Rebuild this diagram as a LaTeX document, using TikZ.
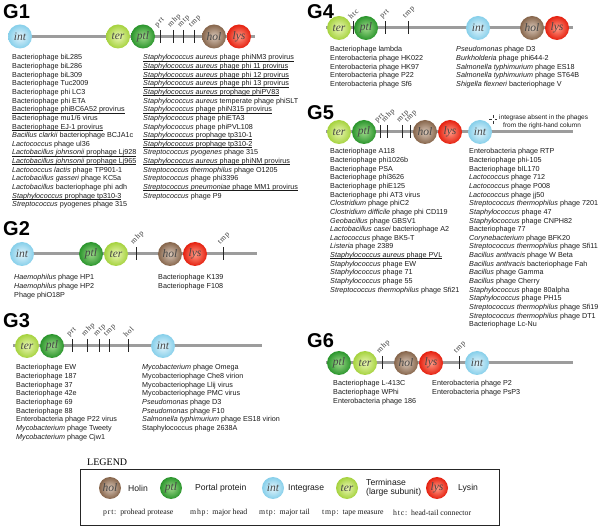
\documentclass[tikz,border=0pt]{standalone}
\usepackage{fontspec}
\setmainfont{Liberation Sans}
\newfontfamily\serifface{Liberation Serif}
\newfontfamily\abbrface[LetterSpace=10]{Liberation Serif}
\usetikzlibrary{calc}

\definecolor{bbgray}{HTML}{9C9C9C}
\definecolor{intin}{HTML}{E4F5FC}\definecolor{intout}{HTML}{86CFEA}
\definecolor{terin}{HTML}{EAF7B4}\definecolor{terout}{HTML}{A5D23E}
\definecolor{ptlin}{HTML}{9ED98A}\definecolor{ptlout}{HTML}{2A952C}
\definecolor{holin}{HTML}{D9C7B8}\definecolor{holout}{HTML}{86654B}
\definecolor{lysin}{HTML}{FF9A86}\definecolor{lysout}{HTML}{E5200F}
\definecolor{txt}{HTML}{1A1A1A}

\newcommand{\undl}[1]{\leavevmode\setbox0\hbox{#1}\rlap{\rule[-1.25pt]{\wd0}{0.4pt}}\box0}
\newcommand{\ti}[1]{\textit{#1}}

\tikzset{
  gene/.style={circle, minimum size=24pt, inner sep=0pt,
    font=\serifface\itshape\fontsize{11.5}{11.5}\selectfont, text=black!72},
  lgene/.style={gene, minimum size=22pt},
  gint/.style={inner color=intin, outer color=intout},
  gter/.style={inner color=terin, outer color=terout},
  gptl/.style={inner color=ptlin, outer color=ptlout},
  ghol/.style={inner color=holin, outer color=holout},
  glys/.style={inner color=lysin, outer color=lysout},
  backbone/.style={line width=3pt, draw=bbgray},
  tickline/.style={line width=0.8pt, draw=black!85},
  ticklbl/.style={rotate=45, anchor=south west, inner sep=0pt,
    font=\abbrface\fontsize{7.6}{8}\selectfont, text=black!80},
  lst/.style={anchor=north west, align=left, inner sep=0pt,
    font=\fontsize{7.2}{8.65}\selectfont, text=txt},
  ttl/.style={anchor=north west, inner sep=0pt,
    font=\bfseries\fontsize{20}{20}\selectfont, text=black},
  leglbl/.style={anchor=west, inner sep=0pt, align=left,
    font=\fontsize{8.6}{9}\selectfont, text=txt},
  legabbr/.style={anchor=west, inner sep=0pt,
    font=\serifface\fontsize{7.8}{8}\selectfont, text=txt},
  notetxt/.style={anchor=west, inner sep=0pt, font=\fontsize{6.5}{7}\selectfont, text=txt},
}

\newcommand{\gtick}[4]{%
  \coordinate (#1t) at (#2,#3-6.5);
  \coordinate (#1b) at (#2,#3+6.5);
  \draw[tickline] (#1t) -- (#1b);
  \node[ticklbl] (#1l) at (#2-1.5,#3-8) {#4};}

\begin{document}
\begin{tikzpicture}[x=1pt,y=-1pt]
\useasboundingbox (0,0) rectangle (600,526);

%================ G1
\node[ttl] (G1) at (3,4) {G1};
\coordinate (g1s) at (14,36.5); \coordinate (g1e) at (255,36.5);
\draw[backbone] (g1s) -- (g1e);
\node[gene,gint] (g1int) at (20,36.5) {int};
\node[gene,gter] (g1ter) at (118,36.5) {ter};
\node[gene,gptl] (g1ptl) at (143,36.5) {ptl};
\node[gene,ghol] (g1hol) at (214,36.5) {hol};
\node[gene,glys] (g1lys) at (239,36.5) {lys};
\gtick{g1a}{160}{36.5}{prt}
\gtick{g1b}{173}{36.5}{mhp}
\gtick{g1c}{183}{36.5}{mtp}
\gtick{g1d}{194}{36.5}{tmp}
\node[lst] (g1L) at (12,54.4) {Bacteriophage biL285\\
Bacteriophage biL286\\
Bacteriophage biL309\\
Bacteriophage Tuc2009\\
Bacteriophage phi LC3\\
Bacteriophage phi ETA\\
\undl{Bacteriophage phiBC6A52 provirus}\\
Bacteriophage mu1/6 virus\\
\undl{Bacteriophage EJ-1 provirus}\\
\ti{Bacillus clarkii} bacteriophage BCJA1c\\
\ti{Lactococcus} phage ul36\\
\undl{\ti{Lactobacillus johnsonii} prophage Lj928}\\
\undl{\ti{Lactobacillus johnsonii} prophage Lj965}\\
\ti{Lactococcus lactis} phage TP901-1\\
\ti{Lactobacillus gasseri} phage KC5a\\
\ti{Lactobacillus} bacteriophage phi adh\\
\undl{\ti{Staphylococcus} prophage tp310-3}\\
\ti{Streptococcus} pyogenes phage 315};
\node[lst] (g1R) at (143,54.4) {\undl{\ti{Staphylococcus aureus} phage phiNM3 provirus}\\
\undl{\ti{Staphylococcus aureus} phage phi 11 provirus}\\
\undl{\ti{Staphylococcus aureus} phage phi 12 provirus}\\
\undl{\ti{Staphylococcus aureus} phage phi 13 provirus}\\
\undl{\ti{Staphylococcus aureus} prophage phiPV83}\\
\ti{Staphylococcus aureus} temperate phage phiSLT\\
\undl{\ti{Staphylococcus} phage phiN315 provirus}\\
\ti{Staphylococcus} phage phiETA3\\
\ti{Staphylococcus} phage phiPVL108\\
\undl{\ti{Staphylococcus} prophage tp310-1}\\
\undl{\ti{Staphylococcus} prophage tp310-2}\\
\ti{Streptococcus pyogenes} phage 315\\
\undl{\ti{Staphylococcus aureus} phage phiNM provirus}\\
\ti{Streptococcus thermophilus} phage O1205\\
\ti{Streptococcus} phage phi3396\\
\undl{\ti{Streptococcus pneumoniae} phage MM1 provirus}\\
\ti{Streptococcus} phage P9};

%================ G2
\node[ttl] (G2) at (3,221) {G2};
\coordinate (g2s) at (10,254); \coordinate (g2e) at (257,254);
\draw[backbone] (g2s) -- (g2e);
\node[gene,gint] (g2int) at (22,254) {int};
\node[gene,gptl] (g2ptl) at (91,254) {ptl};
\node[gene,gter] (g2ter) at (116,254) {ter};
\node[gene,ghol] (g2hol) at (170,254) {hol};
\node[gene,glys] (g2lys) at (195,254) {lys};
\gtick{g2a}{136}{254}{mhp}
\gtick{g2b}{223}{254}{tmp}
\node[lst] (g2L) at (14,274.4) {\ti{Haemophilus} phage HP1\\
\ti{Haemophilus} phage HP2\\
Phage phiO18P};
\node[lst] (g2R) at (158,274.4) {Bacteriophage K139\\
Bacteriophage F108};

%================ G3
\node[ttl] (G3) at (3,313) {G3};
\coordinate (g3s) at (13,346); \coordinate (g3e) at (262,346);
\draw[backbone] (g3s) -- (g3e);
\node[gene,gter] (g3ter) at (27,346) {ter};
\node[gene,gptl] (g3ptl) at (52,346) {ptl};
\node[gene,gint] (g3int) at (163,346) {int};
\gtick{g3a}{72}{346}{prt}
\gtick{g3b}{87}{346}{mhp}
\gtick{g3c}{99}{346}{mtp}
\gtick{g3d}{109}{346}{tmp}
\gtick{g3e}{128}{346}{hol}
\node[lst] (g3L) at (16,364.4) {Bacteriophage EW\\
Bacteriophage 187\\
Bacteriophage 37\\
Bacteriophage 42e\\
Bacteriophage 69\\
Bacteriophage 88\\
Enterobacteria phage P22 virus\\
\ti{Mycobacterium} phage Tweety\\
\ti{Mycobacterium} phage Cjw1};
\node[lst] (g3R) at (142,364.4) {\ti{Mycobacterium} phage Omega\\
Mycobacteriophage Che8 virion\\
Mycobacteriophage Llij virus\\
Mycobacteriophage PMC virus\\
\ti{Pseudomonas} phage D3\\
\ti{Pseudomonas} phage F10\\
\ti{Salmonella typhimurium} phage ES18 virion\\
Staphylococcus phage 2638A};

%================ G4
\node[ttl] (G4) at (307,4) {G4};
\coordinate (g4s) at (326,28); \coordinate (g4e) at (573,28);
\draw[backbone] (g4s) -- (g4e);
\node[gene,gter] (g4ter) at (339,28) {ter};
\node[gene,gptl] (g4ptl) at (366,28) {ptl};
\node[gene,gint] (g4int) at (478,28) {int};
\node[gene,ghol] (g4hol) at (532,28) {hol};
\node[gene,glys] (g4lys) at (557,28) {lys};
\gtick{g4a}{353}{28}{htc}
\gtick{g4b}{385}{28}{prt}
\gtick{g4c}{408}{28}{tmp}
\node[lst] (g4L) at (330,46.4) {Bacteriophage lambda\\
Enterobacteria phage HK022\\
Enterobacteria phage HK97\\
Enterobacteria phage P22\\
Enterobacteria phage Sf6};
\node[lst] (g4R) at (456,46.4) {\ti{Pseudomonas} phage D3\\
\ti{Burkholderia} phage phi644-2\\
\ti{Salmonella typhimurium} phage ES18\\
\ti{Salmonella typhimurium} phage ST64B\\
\ti{Shigella flexneri} bacteriophage V};

%================ G5
\node[ttl] (G5) at (307,105) {G5};
\coordinate (g5s) at (326,132); \coordinate (g5e) at (573,132);
\draw[backbone] (g5s) -- (g5e);
\node[gene,gter] (g5ter) at (339,132) {ter};
\node[gene,gptl] (g5ptl) at (364,132) {ptl};
\node[gene,ghol] (g5hol) at (425,132) {hol};
\node[gene,glys] (g5lys) at (450,132) {lys};
\node[gene,gint] (g5int) at (480,132) {int};
\gtick{g5a}{380}{132}{prt}
\gtick{g5b}{387}{132}{mhp}
\gtick{g5c}{402}{132}{mtp}
\gtick{g5d}{410}{132}{tmp}
\coordinate (sym) at (493,119.5);
\draw[line width=0.5pt, black!80] ($(sym)+(0,-4.5)$) -- ($(sym)+(0,-1.5)$)
  ($(sym)+(0,1.5)$) -- ($(sym)+(0,4.5)$)
  ($(sym)+(-4,0)$) -- ($(sym)+(-1.5,0)$)
  ($(sym)+(1.5,0)$) -- ($(sym)+(4,0)$);
\node[notetxt] (note1) at (499,118) {integrase absent in the phages};
\node[notetxt] (note2) at (503,125.5) {from the right-hand column};
\node[lst] (g5L) at (330,148.4) {Bacteriophage A118\\
Bacteriophage phi1026b\\
Bacteriophage PSA\\
Bacteriophage phi3626\\
Bacteriophage phiE125\\
Bacteriophage phi AT3 virus\\
\ti{Clostridium} phage phiC2\\
\ti{Clostridium difficile} phage phi CD119\\
\ti{Geobacillus} phage GBSV1\\
\ti{Lactobacillus casei} bacteriophage A2\\
\ti{Lactococcus} phage BK5-T\\
\ti{Listeria} phage 2389\\
\undl{\ti{Staphylococcus aureus} phage PVL}\\
\ti{Staphylococcus} phage EW\\
\ti{Staphylococcus} phage 71\\
\ti{Staphylococcus} phage 55\\
\ti{Streptococcus thermophilus} phage Sfi21};
\node[lst] (g5R) at (469,148.4) {Enterobacteria phage RTP\\
Bacteriophage phi-105\\
Bacteriophage bIL170\\
\ti{Lactococcus} phage 712\\
\ti{Lactococcus} phage P008\\
\ti{Lactococcus} phage jj50\\
\ti{Streptococcus thermophilus} phage 7201\\
\ti{Staphylococcus} phage 47\\
\ti{Staphylococcus} phage CNPH82\\
Bacteriophage 77\\
\ti{Corynebacterium} phage BFK20\\
\ti{Streptococcus thermophilus} phage Sfi11\\
\ti{Bacillus anthracis} phage W Beta\\
\ti{Bacillus anthracis} bacteriophage Fah\\
\ti{Bacillus} phage Gamma\\
\ti{Bacillus} phage Cherry\\
\ti{Staphylococcus} phage 80alpha\\
\ti{Staphylococcus} phage PH15\\
\ti{Streptococcus thermophilus} phage Sfi19\\
\ti{Streptococcus thermophilus} phage DT1\\
Bacteriophage Lc-Nu};

%================ G6
\node[ttl] (G6) at (307,333) {G6};
\coordinate (g6s) at (326,363); \coordinate (g6e) at (573,363);
\draw[backbone] (g6s) -- (g6e);
\node[gene,gptl] (g6ptl) at (339,363) {ptl};
\node[gene,gter] (g6ter) at (365,363) {ter};
\node[gene,ghol] (g6hol) at (406,363) {hol};
\node[gene,glys] (g6lys) at (431,363) {lys};
\node[gene,gint] (g6int) at (477,363) {int};
\gtick{g6a}{382}{363}{mhp}
\gtick{g6b}{459}{363}{tmp}
\node[lst] (g6L) at (333,380.4) {Bacteriophage L-413C\\
Bacteriophage WPhi\\
Enterobacteria phage 186};
\node[lst] (g6R) at (432,380.4) {Enterobacteria phage P2\\
Enterobacteria phage PsP3};

%================ Legend
\node[anchor=west, inner sep=0pt, font=\serifface\fontsize{10}{10}\selectfont] (legt) at (87,462) {LEGEND};
\node[draw=black!85, line width=1.2pt, minimum width=419pt, minimum height=56pt, anchor=north west, inner sep=0pt] (legbox) at (80,469) {};
\node[lgene,ghol] (lhol) at (110,488) {hol};
\node[leglbl] (lholt) at (128,488) {Holin};
\node[lgene,gptl] (lptl) at (171,488) {ptl};
\node[leglbl] (lptlt) at (195,488) {Portal protein};
\node[lgene,gint] (lint) at (273,488) {int};
\node[leglbl] (lintt) at (288,488) {Integrase};
\node[lgene,gter] (lter) at (347,488) {ter};
\node[leglbl] (ltert) at (366,488) {Terminase\\(large subunit)};
\node[lgene,glys] (llys) at (437,488) {lys};
\node[leglbl] (llyst) at (458,488) {Lysin};
\node[legabbr] (ab1) at (103,513) {{\abbrface prt:}\ \ prohead protease};
\node[legabbr] (ab2) at (190,513) {{\abbrface mhp:}\ \ major head};
\node[legabbr] (ab3) at (259,513) {{\abbrface mtp:}\ \ major tail};
\node[legabbr] (ab4) at (322,513) {{\abbrface tmp:}\ \ tape measure};
\node[legabbr] (ab5) at (393,513) {{\abbrface htc:}\ \ head-tail connector};
\end{tikzpicture}
\end{document}
